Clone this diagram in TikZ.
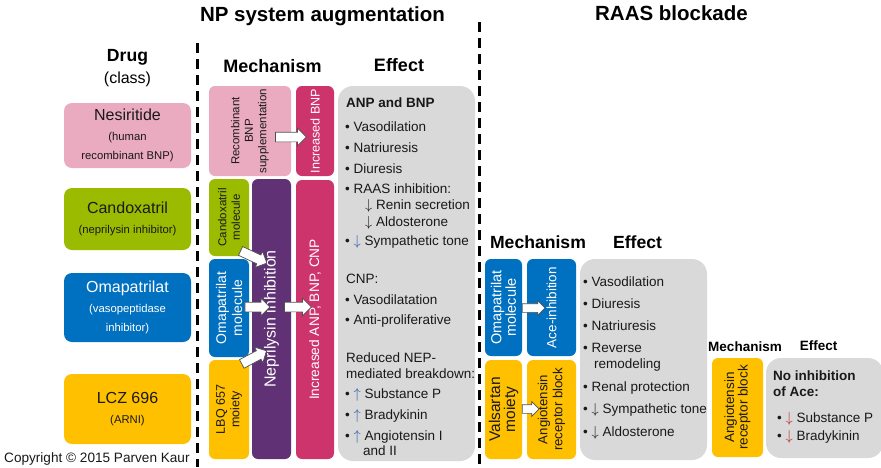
\documentclass[tikz,border=0pt]{standalone}
\usepackage{fontspec}
\setmainfont{Liberation Sans}
\usetikzlibrary{shapes.arrows}
\definecolor{npink}{RGB}{234,170,192}
\definecolor{nmagenta}{RGB}{206,52,108}
\definecolor{ngreen}{RGB}{155,187,0}
\definecolor{nblue}{RGB}{0,112,192}
\definecolor{nyellow}{RGB}{255,192,0}
\definecolor{npurple}{RGB}{96,50,117}
\definecolor{ngray}{RGB}{217,217,217}
\definecolor{arrblue}{RGB}{40,90,165}
\definecolor{arrred}{RGB}{190,40,40}
\definecolor{arrline}{RGB}{80,80,80}
\definecolor{ink}{RGB}{25,25,25}
\newcommand{\efffont}{\fontsize{13.5}{16}\selectfont}
\newcommand{\drugsub}{\fontsize{11.3}{19.5}\selectfont}
\newcommand{\arrdn}[1][ink]{\textcolor{#1}{$\downarrow$}}
\newcommand{\arrup}[1][ink]{\textcolor{#1}{$\uparrow$}}
\tikzset{title/.style = {anchor=base, inner sep=0, font=\bfseries\fontsize{20.5}{24}\selectfont}}
\tikzset{head/.style = {anchor=base, inner sep=0, font=\bfseries\fontsize{18}{21}\selectfont}}
\tikzset{sep/.style = {line width=3pt, dash pattern=on 10pt off 6pt}}
\tikzset{drugbox/.style = {rounded corners=8pt, minimum width=127pt, inner sep=0, align=center,
                           text=ink, font=\fontsize{16}{19.5}\selectfont}}
\tikzset{mechbox/.style = {rotate=90, rounded corners=6pt, inner sep=0, align=center, text=ink}}
\tikzset{effbox/.style = {fill=ngray, rounded corners=15pt, inner sep=0}}
\tikzset{efftext/.style = {anchor=base west, inner sep=0, text=ink, font=\efffont}}
\tikzset{fatarrow/.style = {single arrow, draw=arrline, fill=white, line width=0.7pt,
                            inner xsep=0, inner ysep=4.5pt, single arrow head extend=4pt}}
\tikzset{slimarrow/.style = {fatarrow, inner ysep=4pt, single arrow head extend=3pt}}

\begin{document}
\begin{tikzpicture}[x=1pt, y=-1pt]
  \useasboundingbox (0,0) rectangle (881,467);

  % titles and separators
  \node [title] (nptitle) at (322.5,21) {NP system augmentation};
  \node [title] (raastitle) at (671.5,20) {RAAS blockade};
  \draw [sep] (197,43) -- (197,467);
  \draw [sep] (479,22) -- (479,467);

  % drug column
  \node [head, font=\bfseries\fontsize{17.6}{21}\selectfont] (drughead) at (127.5,61) {Drug};
  \node [anchor=base, inner sep=0, font=\fontsize{16}{19}\selectfont] (classhead) at (127.5,83) {(class)};
  \node [drugbox, fill=npink, minimum height=65pt] (nesir) at (127.5,135.5)
        {Nesiritide\\{\drugsub (human}\\{\drugsub recombinant BNP)}};
  \node [drugbox, fill=ngreen, minimum height=62pt] (candox) at (127.5,219)
        {Candoxatril\\{\drugsub (neprilysin inhibitor)}};
  \node [drugbox, fill=nblue, text=white, minimum height=69pt] (omap) at (127.5,307.5)
        {Omapatrilat\\{\drugsub (vasopeptidase}\\{\drugsub inhibitor)}};
  \node [drugbox, fill=nyellow, minimum height=70pt] (lcz) at (127.5,409)
        {LCZ 696\\{\drugsub (ARNI)}};
  \node [anchor=base west, inner sep=0, text=ink, font=\fontsize{13.6}{16}\selectfont] (copy) at (4,462)
        {Copyright © 2015 Parven Kaur};

  % NP mechanism
  \node [head] (npmech) at (272.5,72) {Mechanism};
  \node [head] (npeffh) at (399,71) {Effect};
  \node [mechbox, fill=npink, minimum width=90pt, minimum height=82pt,
         font=\fontsize{11.5}{13.5}\selectfont] (recomb) at (250,131) {Recombinant\\BNP\\supplementation};
  \node [mechbox, fill=nmagenta, text=white, minimum width=90pt, minimum height=38pt,
         font=\fontsize{12.6}{15}\selectfont] (incbnp) at (315,131) {Increased BNP};
  \node [mechbox, fill=ngreen, minimum width=77pt, minimum height=40pt,
         font=\fontsize{11.5}{13.5}\selectfont] (candmol) at (229,217.5) {Candoxatril\\molecule};
  \node [mechbox, fill=nblue, text=white, minimum width=98pt, minimum height=40pt,
         font=\fontsize{14}{16}\selectfont] (omamol) at (229,308) {Omapatrilat\\molecule};
  \node [mechbox, fill=nyellow, minimum width=99pt, minimum height=40pt,
         font=\fontsize{12.5}{14.5}\selectfont] (lbq) at (229,409.5) {LBQ 657\\moiety};
  \node [mechbox, fill=npurple, text=white, minimum width=280pt, minimum height=39pt,
         font=\fontsize{16}{19}\selectfont] (nepinh) at (271.5,319) {Neprilysin inhibition};
  \node [mechbox, fill=nmagenta, text=white, minimum width=279pt, minimum height=38pt,
         font=\fontsize{13.7}{16}\selectfont] (incanp) at (315,319.5) {Increased ANP, BNP, CNP};

  \node [fatarrow, minimum height=31pt] (arrbnp) at (288.5,137) {};
  \node [fatarrow, minimum height=29pt, rotate=-25] (arrcand) at (251.5,256) {};
  \node [fatarrow, minimum height=25pt] (arroma) at (255,307) {};
  \node [fatarrow, minimum height=28pt, rotate=28] (arrlbq) at (252,358.5) {};
  \node [fatarrow, minimum height=27pt] (arrnep) at (295.5,307) {};

  % NP effect
  \node [effbox, minimum width=137pt, minimum height=375pt] (npeff) at (406.5,273.5) {};
  \node [efftext, font=\bfseries\efffont] (npanp) at (346,107) {ANP and BNP};
  \foreach \yy/\txt [count=\i] in {131/Vasodilation, 152/Natriuresis, 173/Diuresis,
      193/RAAS inhibition:, 245/{\arrdn[arrblue] Sympathetic tone}, 304/Vasodilatation,
      324/Anti-proliferative, 398/{\arrup[arrblue] Substance P}, 419/{\arrup[arrblue] Bradykinin},
      440/{\arrup[arrblue] Angiotensin I}}
    \node [efftext] (npbul\i) at (345,\yy) {• \txt};
  \foreach \yy/\txt [count=\i] in {209/{\arrdn\ Renin secretion}, 226/{\arrdn\ Aldosterone}}
    \node [efftext] (npsub\i) at (365,\yy) {\txt};
  \node [efftext] (npand) at (363,455) {and II};
  \foreach \yy/\txt [count=\i] in {283/CNP:, 362/Reduced NEP-, 378/mediated breakdown:}
    \node [efftext] (nphead\i) at (346,\yy) {\txt};

  % RAAS mechanism
  \node [head, font=\bfseries\fontsize{17.6}{21}\selectfont] (rmech) at (538,248) {Mechanism};
  \node [head, font=\bfseries\fontsize{17.6}{21}\selectfont] (reffh) at (637.5,248) {Effect};
  \node [mechbox, fill=nblue, text=white, minimum width=97pt, minimum height=37pt,
         font=\fontsize{14.5}{14.5}\selectfont] (omamolb) at (503.5,307.5) {Omapatrilat\\molecule};
  \node [mechbox, fill=nblue, text=white, minimum width=97pt, minimum height=49pt,
         font=\fontsize{13.5}{16}\selectfont] (aceinh) at (551.5,307.5) {Ace-inhibition};
  \node [mechbox, fill=nyellow, minimum width=99pt, minimum height=37pt,
         font=\fontsize{15.5}{15}\selectfont] (valsar) at (503.5,409.5) {Valsartan\\moiety};
  \node [mechbox, fill=nyellow, minimum width=99pt, minimum height=49pt,
         font=\fontsize{13.2}{15}\selectfont] (arb) at (551.5,409.5) {Angiotensin\\receptor block};
  \node [slimarrow, minimum height=23pt] (arrace) at (531.5,308) {};
  \node [slimarrow, minimum height=17pt] (arrarb) at (528.5,409) {};

  % RAAS effect
  \node [effbox, minimum width=127pt, minimum height=201pt] (raaseff) at (643.5,359.5) {};
  \foreach \yy/\txt [count=\i] in {286/Vasodilation, 308/Diuresis, 330/Natriuresis, 352/Reverse,
      391/Renal protection, 413/{\arrdn\ Sympathetic tone}, 436/{\arrdn\ Aldosterone}}
    \node [efftext] (rbul\i) at (583,\yy) {• \txt};
  \node [efftext] (rremod) at (594,368) {remodeling};

  % ARB alone
  \node [head, font=\bfseries\fontsize{13.5}{16}\selectfont] (amech) at (745,351) {Mechanism};
  \node [head, font=\bfseries\fontsize{13.5}{16}\selectfont] (aeffh) at (818.5,350) {Effect};
  \node [mechbox, fill=nyellow, minimum width=99pt, minimum height=51pt,
         font=\fontsize{13.5}{13.5}\selectfont] (arbb) at (737.5,407.5) {Angiotensin\\receptor block};
  \node [effbox, minimum width=117pt, minimum height=100pt] (noace) at (824.5,408) {};
  \foreach \yy/\txt [count=\i] in {380/No inhibition, 396/of Ace:}
    \node [efftext, font=\bfseries\efffont] (ahead\i) at (773,\yy) {\txt};
  \foreach \yy/\txt [count=\i] in {422/{\arrdn[arrred]\ Substance P}, 440/{\arrdn[arrred]\ Bradykinin}}
    \node [efftext] (abul\i) at (777,\yy) {• \txt};
\end{tikzpicture}
\end{document}
